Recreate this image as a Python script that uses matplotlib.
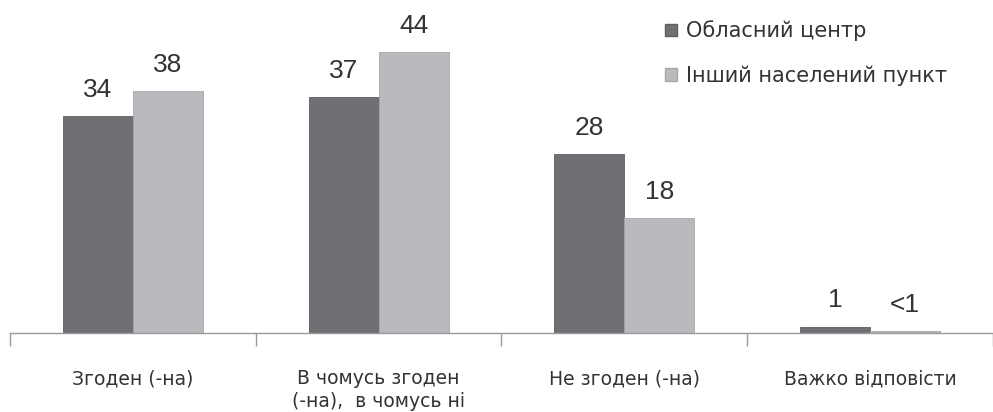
import numpy as np
import matplotlib.pyplot as plt
from matplotlib.patches import Patch

categories = ["Згоден (-на)", "В чомусь згоден\n(-на),  в чомусь ні", "Не згоден (-на)", "Важко відповісти"]
center_vals = [34, 37, 28, 1]
other_vals = [38, 44, 18, 0.3]
center_labels = ["34", "37", "28", "1"]
other_labels = ["38", "44", "18", "<1"]
series_names = ["Обласний центр", "Інший населений пункт"]

dark = '#707074'
light = '#b9babe'
text_col = '#333333'

plt.rcParams['font.family'] = ['Liberation Sans', 'DejaVu Sans']

fig = plt.figure(figsize=(9.93, 4.12), dpi=100)
ax = fig.add_axes([0.010, 0.192, 0.990, 0.774])

x = np.arange(len(categories))
w = 0.285
b1 = ax.bar(x - w / 2, center_vals, w, color=dark, edgecolor='#5f5f63', linewidth=0.6)
b2 = ax.bar(x + w / 2, other_vals, w, color=light, edgecolor='#a5a6aa', linewidth=0.6)

for bars, labels in [(b1, center_labels), (b2, other_labels)]:
    for rect, lab in zip(bars, labels):
        ax.text(rect.get_x() + rect.get_width() / 2, rect.get_height() + 2.2, lab,
                ha='center', va='bottom', fontsize=19, color=text_col)

ax.set_xlim(-0.5, 3.5)
ax.set_ylim(0, 50)
ax.set_yticks([])
for s in ['top', 'right', 'left']:
    ax.spines[s].set_visible(False)
ax.spines['bottom'].set_color('#9a9a9a')
ax.spines['bottom'].set_linewidth(1.0)

ax.set_xticks(x)
ax.set_xticklabels(categories, fontsize=13.5, color=text_col, va='top', linespacing=1.25,
                   family=['DejaVu Sans'])
ax.tick_params(axis='x', which='major', length=0, pad=26)
ax.set_xticks(np.arange(-0.5, 3.6, 1.0), minor=True)
ax.tick_params(axis='x', which='minor', length=9, color='#9a9a9a', width=1.0)

handles = [Patch(facecolor=dark, edgecolor='#5f5f63'), Patch(facecolor=light, edgecolor='#a5a6aa')]
fig.legend(handles, series_names, loc='upper left', bbox_to_anchor=(0.651, 0.996),
           frameon=False, prop={'family': 'DejaVu Sans', 'size': 15},
           handlelength=0.55, handleheight=0.55,
           handletextpad=0.45, labelspacing=1.15, labelcolor=text_col)

fig.savefig('out.png', dpi=100)
